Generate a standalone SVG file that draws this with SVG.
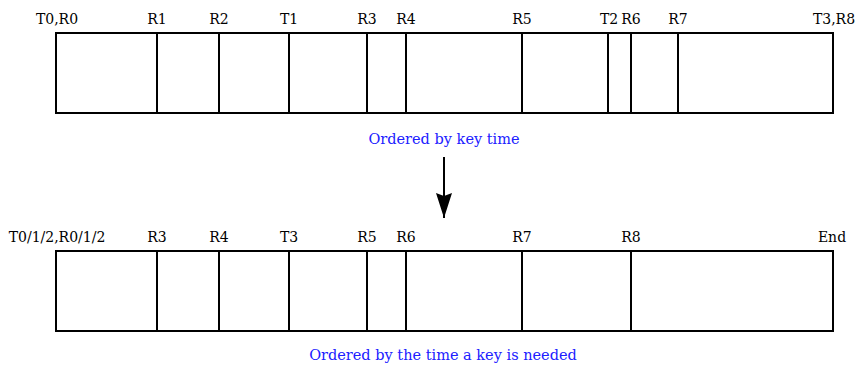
<svg xmlns="http://www.w3.org/2000/svg" width="856" height="365" viewBox="0 0 856 365">
<style>
.box{fill:#fff;stroke:#000;stroke-width:2}
.div{stroke:#000;stroke-width:2}
.lbl{font-family:"DejaVu Serif","Liberation Serif",serif;font-size:14px;fill:#000;text-anchor:middle}
.cap{font-family:"DejaVu Serif","Liberation Serif",serif;font-size:14.5px;fill:#2020ff;text-anchor:middle}
</style>
<defs>
<marker id="ah" markerWidth="26" markerHeight="16" refX="25" refY="8" orient="auto" markerUnits="userSpaceOnUse" viewBox="0 0 26 16">
<path d="M0,0 L3,8 L0,16 L25,8 Z" fill="#000"/>
</marker>
</defs>
<g id="top-bar">
<rect class="box" x="56" y="33" width="777" height="80"/>
<path class="div" d="M157,33V113M219,33V113M289,33V113M367,33V113M406,33V113M522,33V113M608,33V113M631,33V113M678,33V113"/>
<text class="lbl" x="57" y="24">T0,R0</text>
<text class="lbl" x="157" y="24">R1</text>
<text class="lbl" x="219" y="24">R2</text>
<text class="lbl" x="289" y="24">T1</text>
<text class="lbl" x="367" y="24">R3</text>
<text class="lbl" x="406" y="24">R4</text>
<text class="lbl" x="522" y="24">R5</text>
<text class="lbl" x="609" y="24">T2</text>
<text class="lbl" x="631" y="24">R6</text>
<text class="lbl" x="678" y="24">R7</text>
<text class="lbl" x="834" y="24">T3,R8</text>
</g>
<g id="top-caption">
<text class="cap" x="444" y="144">Ordered by key time</text>
</g>
<g id="connectors">
<line x1="444" y1="157" x2="444" y2="218" stroke="#000" stroke-width="2" marker-end="url(#ah)"/>
</g>
<g id="bottom-bar">
<rect class="box" x="56" y="251" width="777" height="80"/>
<path class="div" d="M157,251V331M219,251V331M289,251V331M367,251V331M406,251V331M522,251V331M631,251V331"/>
<text class="lbl" x="57" y="242">T0/1/2,R0/1/2</text>
<text class="lbl" x="157" y="242">R3</text>
<text class="lbl" x="219" y="242">R4</text>
<text class="lbl" x="289" y="242">T3</text>
<text class="lbl" x="367" y="242">R5</text>
<text class="lbl" x="406" y="242">R6</text>
<text class="lbl" x="522" y="242">R7</text>
<text class="lbl" x="631" y="242">R8</text>
<text class="lbl" x="832" y="242">End</text>
</g>
<g id="bottom-caption">
<text class="cap" x="443" y="360">Ordered by the time a key is needed</text>
</g>
</svg>
